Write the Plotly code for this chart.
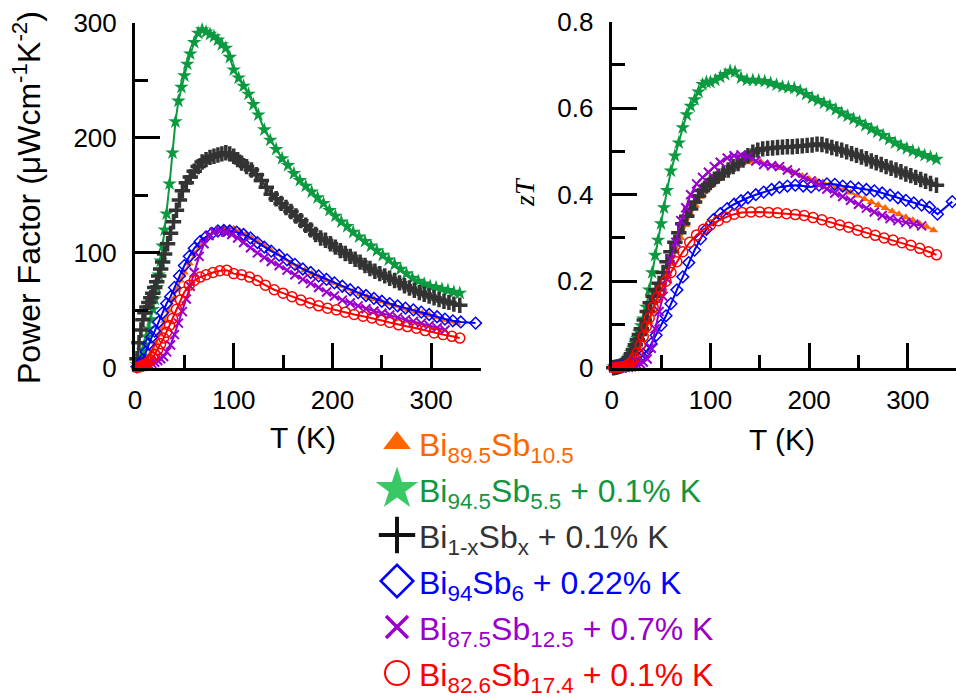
import plotly.graph_objects as go

# ---------------- data ----------------
# Bi89.5Sb10.5
T_orange = [2, 4, 6, 8, 10, 12, 15, 18, 21, 24, 27, 30, 34, 38, 42, 46, 50, 55, 60, 65,
            70, 75, 80, 85, 90, 95, 100, 106, 112, 118, 124, 130, 137, 144, 151, 158, 165, 172, 179, 186,
            193, 200, 207, 214, 221, 228, 235, 242, 249, 256, 263, 270, 277, 284, 291, 298, 305, 312, 319, 326]
PF_orange = [0.5, 1, 2, 3, 5, 7, 11, 16, 22, 29, 35, 41, 50, 59, 68, 76, 83, 91, 99, 106,
             111, 115, 118, 120, 121, 121, 121, 119, 116, 113, 110, 107, 103, 99, 95, 91, 88, 85, 82, 79,
             76.5, 74, 71.5, 69, 66.5, 64.5, 62, 60, 58, 56, 54, 52, 50.5, 49, 47.5, 46, 44, 42, 40.5, 38.8]
ZT_orange = [0.002, 0.003, 0.004, 0.005, 0.006, 0.008, 0.012, 0.018, 0.026, 0.036, 0.05, 0.065, 0.085, 0.105, 0.13,
             0.155, 0.18, 0.21, 0.24, 0.27, 0.30, 0.33, 0.355, 0.375, 0.395, 0.41, 0.42, 0.435, 0.445, 0.455,
             0.463, 0.47, 0.475, 0.477, 0.476, 0.472, 0.467, 0.462, 0.456, 0.45, 0.443, 0.437, 0.432, 0.428, 0.424,
             0.418, 0.412, 0.405, 0.398, 0.39, 0.383, 0.376, 0.369, 0.362, 0.355, 0.348, 0.341, 0.333, 0.326, 0.318]

# Bi94.5Sb5.5 + 0.1% K
T_green = [2, 4, 6, 8, 10, 12, 14, 16, 18, 20, 22, 24, 26, 28, 30, 32,
           35, 38, 41, 44, 47, 50, 53, 56,
           60, 64, 68, 72, 76, 80, 84, 88, 92, 96, 100,
           105, 110, 115, 120, 125,
           131, 137, 143, 149, 155, 161, 167, 173, 179, 185, 191, 197, 203, 209, 215, 221, 227,
           233, 239, 245, 251, 257, 263, 269, 275, 281, 287, 293, 299, 305, 311, 317, 323, 329]
PF_green = [3, 6, 10, 15, 20, 27, 34, 42, 51, 60, 70, 81, 93, 106, 120, 134,
            160, 187, 214, 232, 244, 254, 264, 273,
            283, 291, 294, 292, 290, 288, 285, 281, 278, 270, 259,
            252, 245, 238, 229, 220,
            207, 198, 190, 182, 176, 169, 163, 158, 153, 148, 143, 137, 132, 127, 123, 118, 114,
            110, 106, 102, 98, 94, 90, 86, 82, 78, 75.5, 73, 71, 70, 68.5, 67.5, 66, 65]
ZT_green = [0.002, 0.002, 0.003, 0.004, 0.006, 0.01, 0.015, 0.02, 0.027, 0.035, 0.045, 0.056, 0.068, 0.082, 0.097, 0.113,
            0.14, 0.18, 0.22, 0.26, 0.295, 0.333, 0.37, 0.41,
            0.455, 0.49, 0.52, 0.555, 0.585, 0.605, 0.62, 0.638, 0.655, 0.66, 0.66,
            0.665, 0.672, 0.678, 0.686, 0.684,
            0.67, 0.665, 0.665, 0.664, 0.662, 0.658, 0.654, 0.65, 0.648, 0.646, 0.64, 0.632, 0.624, 0.618, 0.612,
            0.605, 0.597, 0.589, 0.582, 0.575, 0.568, 0.56, 0.552, 0.545, 0.537, 0.528, 0.52, 0.513, 0.507, 0.501,
            0.496, 0.491, 0.487, 0.482]

# Bi1-xSbx + 0.1% K
T_black = [2, 4, 6, 8, 10, 12, 14, 16, 18, 20, 22, 24, 26, 28, 30,
           33, 36, 39, 42, 45, 48,
           52, 56, 60, 64, 68, 72, 76, 80, 84, 88, 92, 96, 100,
           104, 108,
           113, 118, 123, 128, 133, 138, 143, 148, 153, 158, 163, 168, 173, 178, 183, 188, 193, 198, 203,
           208, 213, 218, 223, 228, 233, 238, 243, 248, 253, 258, 263, 268, 273, 278, 283, 288, 293, 298,
           303, 308, 313, 318, 323, 329]
PF_black = [8, 22, 33, 42, 48, 53, 57, 61, 65, 70, 75, 80, 86, 92, 99,
            108, 117, 127, 137, 146, 154,
            161, 166, 171, 175, 179, 181, 183, 184, 185, 186, 187, 186, 184,
            181, 178,
            175, 172, 168, 163, 157, 151, 147, 143, 139.5, 136, 132, 128, 124, 120, 116, 113, 111, 108, 105,
            102, 99.5, 97, 94.5, 92, 89, 86.5, 84, 82, 80, 78, 76, 74, 71.5, 69.5, 67.5, 65.5, 64, 62.5,
            61, 59.5, 58, 57, 55.5, 54.5]
ZT_black = [0.0, 0.001, 0.002, 0.003, 0.005, 0.008, 0.012, 0.017, 0.024, 0.032, 0.042, 0.053, 0.065, 0.077, 0.09,
            0.11, 0.13, 0.15, 0.165, 0.18, 0.195,
            0.22, 0.245, 0.268, 0.29, 0.312, 0.333, 0.35, 0.367, 0.383, 0.397, 0.41, 0.42, 0.428,
            0.436, 0.443,
            0.45, 0.457, 0.465, 0.472, 0.48, 0.49, 0.498, 0.503, 0.506, 0.507, 0.508, 0.509, 0.51, 0.511, 0.511,
            0.512, 0.513, 0.514, 0.515, 0.517, 0.516, 0.513, 0.509, 0.506, 0.503, 0.499, 0.495, 0.491, 0.487,
            0.483, 0.478, 0.474, 0.47, 0.465, 0.461, 0.457, 0.453, 0.448, 0.444, 0.44, 0.435, 0.431, 0.426,
            0.422]

# Bi94Sb6 + 0.22% K
T_blue = [2, 5, 8, 11, 14, 17, 20, 24, 28, 32, 36, 40, 45, 50, 55, 60,
          66, 72, 78, 84, 90, 96, 103, 110, 117, 124, 131, 138,
          146, 154, 162, 170, 178, 186, 194, 202, 210, 218, 226, 234, 242, 250, 258, 266, 274, 282,
          290, 298, 306, 314, 322, 330, 345]
PF_blue = [1, 3, 7, 14, 21, 27, 32, 40, 48, 56, 62, 70, 80, 89, 97, 104,
           110, 114, 117, 119, 119.5, 119, 118, 116, 113, 109, 105, 101.5,
           98, 94, 90, 86, 83, 80, 77, 74, 71, 68, 65.5, 63, 60.5, 58, 56, 54, 52, 50.5,
           48.5, 46.5, 44.5, 42.5, 41, 40, 39]
ZT_blue = [0.0, 0.001, 0.002, 0.003, 0.004, 0.006, 0.008, 0.012, 0.02, 0.03, 0.04, 0.055, 0.075, 0.098, 0.12, 0.148,
           0.18, 0.21, 0.243, 0.272, 0.298, 0.32, 0.342, 0.356, 0.368, 0.378, 0.386, 0.393,
           0.4, 0.406, 0.412, 0.417, 0.42, 0.422, 0.42, 0.418, 0.422, 0.425, 0.424, 0.42, 0.418, 0.415,
           0.412, 0.409, 0.404, 0.399, 0.393, 0.387, 0.381, 0.376, 0.371, 0.355, 0.384]

# Bi87.5Sb12.5 + 0.7% K
T_purple = [2, 5, 8, 11, 14, 17, 20, 23, 26, 29, 32,
            36, 40, 44, 48, 52, 56, 60, 65, 70, 75, 80,
            86, 92, 98, 104, 110, 117, 124, 131, 138,
            146, 154, 162, 170, 178, 186, 194, 202, 210, 218, 226, 234, 242, 250, 258,
            266, 274, 282, 290, 298, 306, 314]
PF_purple = [0.5, 1, 1.5, 2, 3, 4, 5, 6.5, 8, 10, 14,
             20, 29, 39, 49, 60, 71, 83, 97, 108, 115, 118,
             119, 118, 116, 113, 109, 104.5, 100, 96, 92.5,
             89, 85, 81, 77, 73.5, 70, 66, 62.5, 59, 56.5, 54, 51.5, 49.5, 47.5, 46,
             44, 42, 40.5, 39, 37, 35, 33]
ZT_purple = [0.0, 0.0, 0.0, 0.0, 0.001, 0.001, 0.002, 0.004, 0.006, 0.009, 0.013,
             0.02, 0.045, 0.09, 0.13, 0.165, 0.205, 0.25, 0.29, 0.34, 0.37, 0.40,
             0.425, 0.44, 0.452, 0.465, 0.475, 0.485, 0.49, 0.492, 0.488,
             0.478, 0.47, 0.467, 0.465, 0.457, 0.45, 0.44, 0.432, 0.423, 0.413, 0.404, 0.396, 0.387, 0.378, 0.369,
             0.36, 0.352, 0.345, 0.34, 0.336, 0.332, 0.328]

# Bi82.6Sb17.4 + 0.1% K
T_red = [2, 4, 6, 8, 10, 12, 14, 16, 18, 20,
         23, 26, 29, 32, 35, 38, 42, 46, 50, 55, 60, 66, 72,
         79, 86, 93, 100, 108, 116, 124, 132,
         141, 150, 159, 168, 177, 186, 195, 204, 213, 222, 231, 240, 249, 258, 267, 276, 285, 294, 303,
         312, 321, 329]
PF_red = [0.5, 1, 1.5, 2, 3, 4, 5.5, 7, 9, 12,
          16, 21, 26, 31, 37, 43, 51, 59, 66, 72, 76, 79, 81,
          83, 84.5, 85, 82, 81, 79, 76, 72,
          68, 65, 62, 59, 56.5, 54, 52, 50.5, 48.5, 46.5, 45, 43.5, 41.5, 39.5, 37.5, 36, 34.5, 32.5, 30.5,
          29, 27.5, 26]
ZT_red = [0.0, 0.0, 0.001, 0.001, 0.002, 0.003, 0.004, 0.006, 0.009, 0.013,
          0.022, 0.035, 0.052, 0.072, 0.095, 0.115, 0.14, 0.162, 0.18, 0.2, 0.22, 0.245, 0.268,
          0.29, 0.307, 0.32, 0.33, 0.34, 0.348, 0.355, 0.359,
          0.36, 0.36, 0.359, 0.358, 0.356, 0.354, 0.352, 0.347, 0.342, 0.336, 0.33, 0.325, 0.318, 0.312,
          0.306, 0.3, 0.295, 0.289, 0.283, 0.276, 0.268, 0.261]

labels = [
    "Bi<sub>89.5</sub>Sb<sub>10.5</sub>",
    "Bi<sub>94.5</sub>Sb<sub>5.5</sub> + 0.1% K",
    "Bi<sub>1-x</sub>Sb<sub>x</sub> + 0.1% K",
    "Bi<sub>94</sub>Sb<sub>6</sub> + 0.22% K",
    "Bi<sub>87.5</sub>Sb<sub>12.5</sub> + 0.7% K",
    "Bi<sub>82.6</sub>Sb<sub>17.4</sub> + 0.1% K",
]

x_ticks = [0, 100, 200, 300]
pf_ticks = [0, 100, 200, 300]
zt_ticks = [0, 0.2, 0.4, 0.6, 0.8]
zt_tick_text = ["0", "0.2", "0.4", "0.6", "0.8"]

# ---------------- styling ----------------
series = [
    dict(T=T_orange, pf=PF_orange, zt=ZT_orange, color="#FF6600", text="#FF6600",
         symbol="triangle-up", size=8, lw=0, leg_color="#FF6600", leg_size=24, leg_lw=0),
    dict(T=T_green, pf=PF_green, zt=ZT_green, color="#0B9A40", text="#12963F",
         symbol="star", size=11, lw=0, leg_color="#38C964", leg_size=32, leg_lw=0),
    dict(T=T_black, pf=PF_black, zt=ZT_black, color="#333333", text="#333333",
         symbol="cross-thin", size=11, lw=3.5, leg_color="#111111", leg_size=26, leg_lw=4),
    dict(T=T_blue, pf=PF_blue, zt=ZT_blue, color="#0000FF", text="#0000FF",
         symbol="diamond-open", size=9, lw=1.5, leg_color="#0000FF", leg_size=25, leg_lw=2.5),
    dict(T=T_purple, pf=PF_purple, zt=ZT_purple, color="#9900CC", text="#9900CC",
         symbol="x-thin", size=9, lw=2, leg_color="#9900CC", leg_size=22, leg_lw=3.5),
    dict(T=T_red, pf=PF_red, zt=ZT_red, color="#FF0000", text="#FF0000",
         symbol="circle-open", size=10, lw=1.5, leg_color="#FF0000", leg_size=24, leg_lw=2),
]
for s in series:
    assert len(s["T"]) == len(s["pf"]) == len(s["zt"])

W, H = 956, 698
FONT = "Liberation Sans, Arial, sans-serif"


def fx(p):
    return p / W


def fy(p):
    return 1 - p / H


fig = go.Figure()

for s in series:
    for yvals, xa, ya in ((s["pf"], "x", "y"), (s["zt"], "x2", "y2")):
        fig.add_trace(go.Scatter(
            x=s["T"], y=yvals, xaxis=xa, yaxis=ya, mode="lines+markers",
            line=dict(color=s["color"], width=2),
            marker=dict(symbol=s["symbol"], size=s["size"], color=s["color"],
                        line=dict(color=s["color"], width=s["lw"])),
            cliponaxis=False, showlegend=False, hoverinfo="skip"))

# legend column: one marker per series on a hidden axis, one row per series
rows = list(range(len(series)))
fig.add_trace(go.Scatter(
    x=[0.5] * len(series), y=rows, xaxis="x3", yaxis="y3", mode="markers",
    marker=dict(symbol=[s["symbol"] for s in series],
                size=[s["leg_size"] for s in series],
                color=[s["leg_color"] for s in series],
                opacity=1,
                line=dict(color=[s["leg_color"] for s in series],
                          width=[s["leg_lw"] for s in series])),
    cliponaxis=False, showlegend=False, hoverinfo="skip"))

annotations = []
for i, (s, lab) in enumerate(zip(series, labels)):
    annotations.append(dict(
        x=1.0, y=i, xref="x3", yref="y3", text=lab, showarrow=False, yshift=-4,
        xanchor="left", yanchor="middle", font=dict(family=FONT, size=32, color=s["text"])))

annotations += [
    dict(x=fx(303), y=fy(437), xref="paper", yref="paper", text="T (K)", showarrow=False,
         xanchor="center", yanchor="middle", font=dict(family=FONT, size=30, color="black")),
    dict(x=fx(782), y=fy(439), xref="paper", yref="paper", text="T (K)", showarrow=False,
         xanchor="center", yanchor="middle", font=dict(family=FONT, size=30, color="black")),
    dict(x=fx(27), y=fy(198), xref="paper", yref="paper",
         text="Power Factor (\u03bcWcm<sup>-1</sup>K<sup>-2</sup>)", showarrow=False,
         textangle=-90, xanchor="center", yanchor="middle",
         font=dict(family=FONT, size=32, color="black")),
    dict(x=fx(524), y=fy(192), xref="paper", yref="paper", text="<i>zT</i>", showarrow=False,
         textangle=-90, xanchor="center", yanchor="middle",
         font=dict(family="Liberation Serif, Times New Roman, serif", size=28, color="black")),
]

axis_common = dict(
    showline=True, linecolor="black", linewidth=3, showgrid=False, zeroline=False,
    ticks="inside", ticklen=25, tickwidth=3, tickcolor="black", automargin=False,
    tickfont=dict(family=FONT, size=26, color="black"),
)

x_left = (135, 480.5)
x_right = (611.7, 956)
px_per_K = (x_left[1] - x_left[0]) / 350

fig.update_layout(
    width=W, height=H, margin=dict(l=0, r=0, t=0, b=0, pad=0, autoexpand=False),
    paper_bgcolor="white", plot_bgcolor="white", showlegend=False,
    xaxis=dict(**axis_common, domain=[fx(x_left[0]), fx(x_left[1])], range=[0, 350],
               tickvals=x_ticks, anchor="y", ticklabelstandoff=7,
               minor=dict(ticks="inside", ticklen=13, tickwidth=3, tickcolor="black", dtick=50, showgrid=False)),
    yaxis=dict(**axis_common, domain=[fy(368), fy(22.7)], range=[0, 300],
               tickvals=pf_ticks, anchor="x", ticklabelstandoff=10,
               minor=dict(ticks="inside", ticklen=13, tickwidth=3, tickcolor="black", dtick=50, showgrid=False)),
    xaxis2=dict(**axis_common, domain=[fx(x_right[0]), 1.0],
                range=[0, (x_right[1] - x_right[0]) / px_per_K],
                tickvals=x_ticks, anchor="y2", ticklabelstandoff=7,
                minor=dict(ticks="inside", ticklen=13, tickwidth=3, tickcolor="black", dtick=50, showgrid=False)),
    yaxis2=dict(**axis_common, domain=[fy(367.7), fy(21.7)], range=[0, 0.8],
                tickvals=zt_ticks, ticktext=zt_tick_text, anchor="x2", ticklabelstandoff=10,
                minor=dict(ticks="inside", ticklen=13, tickwidth=3, tickcolor="black", dtick=0.1, showgrid=False)),
    xaxis3=dict(domain=[fx(377), fx(417)], range=[0, 1], visible=False, fixedrange=True,
                anchor="y3", automargin=False),
    yaxis3=dict(domain=[fy(696), fy(420)], range=[5.5, -0.5], visible=False, fixedrange=True,
                anchor="x3", automargin=False),
    annotations=annotations,
)

fig.write_html("out.html")
